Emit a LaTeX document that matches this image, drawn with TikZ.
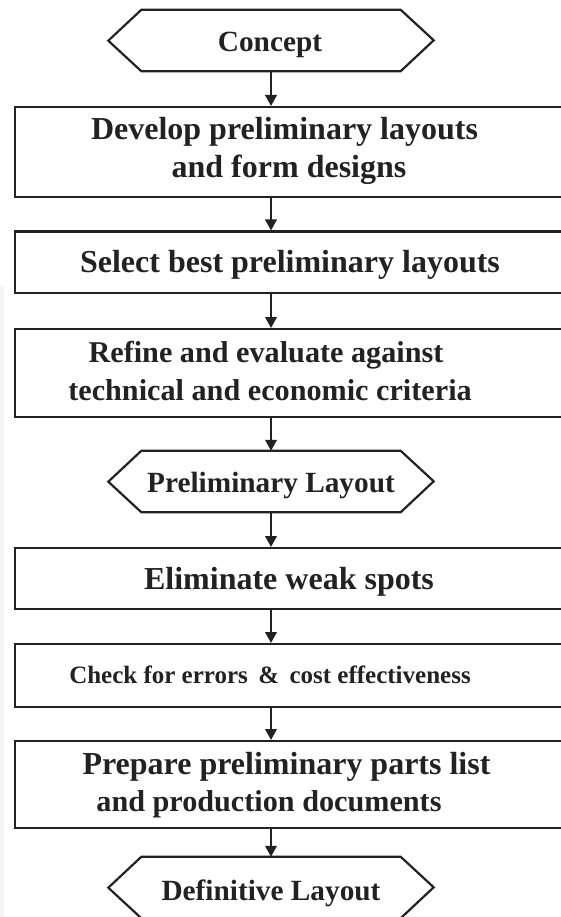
\documentclass[tikz,border=0pt]{standalone}
\usepackage{fontspec}
\setmainfont{Liberation Serif}
\usetikzlibrary{arrows.meta}
\definecolor{ink}{HTML}{222222}
\begin{document}
\begin{tikzpicture}[x=1pt,y=-1pt,
  frame/.style={draw=ink, line width=2.2pt},
  stepbox/.style={frame, rectangle, inner sep=0pt, minimum width=580, anchor=north west},
  hexcore/.style={rectangle, inner sep=0pt, minimum width=259, minimum height=61},
  txt/.style={text=ink, inner sep=0pt, anchor=base, font=\bfseries\fontsize{32}{37}\selectfont},
  narrowtxt/.style={txt, font=\bfseries\fontsize{30.2}{36}\selectfont},
  hextxt/.style={txt, font=\bfseries\fontsize{29.3}{35}\selectfont},
  smalltxt/.style={txt, font=\bfseries\fontsize{25}{30}\selectfont},
  flow/.style={draw=ink, line width=2.2pt, -{Triangle[length=11pt,width=11.5pt]}}
]
\useasboundingbox (0,0) rectangle (561,917);
\clip (0,0) rectangle (561,917);
\fill[black!4] (0,285) rectangle (4,917);

% terminal hexagons: a core rectangle plus pointed ends
\newcommand{\hexframe}[1]{%
  \draw[frame, line join=miter] (#1.north west) -- (#1.north east) -- ++(33,30.5)
    -- (#1.south east) -- (#1.south west) -- ++(-33,-30.5) -- cycle;}

\node[hexcore] (h1) at (271,40.5) {};
\hexframe{h1}
\node[hextxt] (t0) at (270,52) {Concept};

\node[stepbox, minimum height=90] (b1) at (13.5,106) {};
\node[txt] (t1a) at (284.5,140) {Develop preliminary layouts};
\node[txt] (t1b) at (289,177.5) {and form designs};

\node[stepbox, minimum height=61.5] (b2) at (13.5,230.5) {};
\node[txt] (t2) at (290,272) {Select best preliminary layouts};

\node[stepbox, minimum height=88] (b3) at (13.5,328) {};
\node[narrowtxt] (t3a) at (266,362.5) {Refine and evaluate against};
\node[narrowtxt] (t3b) at (270,400) {technical and economic criteria};

\node[hexcore] (h2) at (271,481.5) {};
\hexframe{h2}
\node[hextxt] (t4) at (271,492.5) {Preliminary Layout};

\node[stepbox, minimum height=61] (b4) at (13.5,547) {};
\node[txt] (t5) at (289,589.5) {Eliminate weak spots};

\node[stepbox, minimum height=63] (b5) at (13.5,643) {};
\node[smalltxt] (t6) at (270,683.5) {Check for errors \,\&\, cost effectiveness};

\node[stepbox, minimum height=87] (b6) at (13.5,740) {};
\node[txt] (t7a) at (286.5,774.5) {Prepare preliminary parts list};
\node[narrowtxt] (t7b) at (269,811.5) {and production documents};

\node[hexcore] (h3) at (271,887.5) {};
\hexframe{h3}
\node[hextxt] (t8) at (271,900) {Definitive Layout};

% flow arrows along the common axis
\draw[flow] (h1.south) -- (h1.south |- b1.north);
\draw[flow] (b1.south -| h1.south) -- (b2.north -| h1.south);
\draw[flow] (b2.south -| h1.south) -- (b3.north -| h1.south);
\draw[flow] (b3.south -| h1.south) -- (h2.north);
\draw[flow] (h2.south) -- (h2.south |- b4.north);
\draw[flow] (b4.south -| h1.south) -- (b5.north -| h1.south);
\draw[flow] (b5.south -| h1.south) -- (b6.north -| h1.south);
\draw[flow] (b6.south -| h1.south) -- (h3.north);
\end{tikzpicture}
\end{document}
